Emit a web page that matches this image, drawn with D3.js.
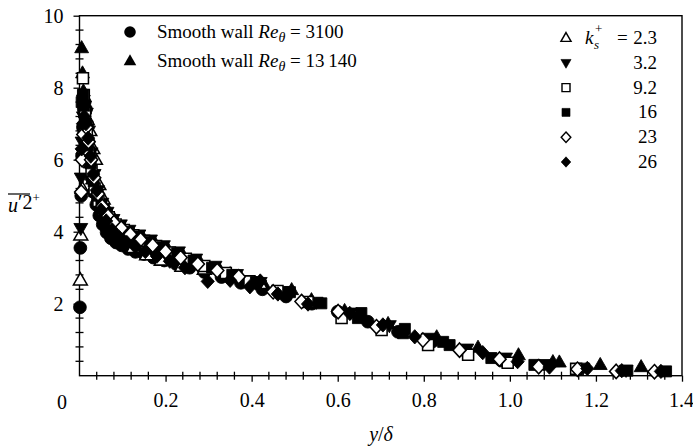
<!DOCTYPE html>
<html><head><meta charset="utf-8">
<script src="https://cdn.jsdelivr.net/npm/d3@7"></script>
<style>html,body{margin:0;padding:0;background:#fff}svg{display:block}svg text{font-family:'Liberation Serif',Tinos,'Times New Roman','DejaVu Serif',serif !important}</style>
</head><body><svg id="c" width="693" height="446"></svg>
<script>
const xTicks = [0.2,0.4,0.6,0.8,1.0,1.2,1.4];
const xTickLabels = ["0.2","0.4","0.6","0.8","1.0","1.2","1.4"];
const yTicks = [2,4,6,8,10];
const yTickLabels = ["2","4","6","8","10"];

const smooth3100 = [[0.001,1.9],[0.002,3.55],[0.004,5.0],[0.006,6.1],[0.008,6.9],[0.010,7.4],[0.012,7.6],[0.015,7.4],[0.018,7.0],[0.021,6.5],[0.024,6.0],[0.028,5.5],[0.033,5.1],[0.039,4.75],[0.046,4.45],[0.054,4.2],[0.063,3.98],[0.073,3.82],[0.085,3.7],[0.098,3.62],[0.113,3.52],[0.13,3.44],[0.15,3.38],[0.172,3.28],[0.197,3.2],[0.225,3.1],[0.256,3.0],[0.29,2.88],[0.33,2.74],[0.375,2.58],[0.425,2.4],[0.48,2.2],[0.54,2.0],[0.6,1.78],[0.67,1.5],[0.74,1.22],[0.82,0.95],[0.9,0.65],[0.98,0.42]];
const smooth13140 = [[0.005,9.1],[0.007,8.4],[0.009,7.9],[0.012,7.4],[0.015,6.9],[0.019,6.4],[0.024,5.9],[0.03,5.45],[0.037,5.1],[0.046,4.8],[0.057,4.55],[0.07,4.4],[0.085,4.25],[0.103,4.1],[0.124,3.95],[0.148,3.82],[0.175,3.68],[0.205,3.52],[0.24,3.35],[0.28,3.15],[0.325,2.95],[0.375,2.72],[0.43,2.5],[0.493,2.38],[0.539,2.1],[0.616,1.8],[0.717,1.44],[0.83,1.07],[0.926,0.78],[1.02,0.57],[1.10,0.38],[1.115,0.37],[1.21,0.3],[1.305,0.24]];
const ks23 = [[0.002,2.65],[0.003,3.9],[0.006,5.2],[0.009,6.3],[0.013,6.9],[0.018,7.1],[0.024,6.8],[0.031,6.3],[0.037,6.0],[0.045,5.3],[0.055,4.9],[0.067,4.55],[0.082,4.3],[0.1,4.05],[0.125,3.55],[0.156,3.35],[0.19,3.2],[0.238,3.03],[0.29,2.95],[0.35,2.8],[0.42,2.55]];
const ks32 = [[0.003,4.1],[0.004,5.5],[0.006,6.5],[0.009,7.2],[0.012,7.5],[0.016,7.3],[0.021,6.8],[0.027,6.2],[0.034,5.6],[0.042,5.15],[0.052,4.8],[0.064,4.55],[0.078,4.35],[0.095,4.2],[0.115,4.05],[0.138,3.92],[0.165,3.78],[0.195,3.62],[0.23,3.45],[0.27,3.25],[0.315,3.05],[0.365,2.82],[0.42,2.6],[0.48,2.35],[0.55,2.05],[0.63,1.75],[0.72,1.4],[0.81,1.05],[0.9,0.75],[0.99,0.5],[1.08,0.32],[1.17,0.22],[1.27,0.16]];
const ks92 = [[0.008,8.26],[0.01,7.8],[0.013,7.3],[0.017,6.8],[0.022,6.2],[0.028,5.7],[0.035,5.2],[0.044,4.85],[0.055,4.6],[0.068,4.4],[0.084,4.2],[0.103,4.05],[0.125,3.9],[0.15,3.75],[0.178,3.6],[0.21,3.42],[0.247,3.25],[0.29,3.05],[0.34,2.85],[0.395,2.62],[0.46,2.35],[0.53,2.05],[0.609,1.6],[0.702,1.27],[0.81,0.85],[0.903,0.58],[0.995,0.36],[1.154,0.19]];
const ks16 = [[0.005,7.6],[0.008,7.8],[0.011,7.5],[0.015,7.0],[0.02,6.4],[0.026,5.9],[0.033,5.4],[0.041,5.0],[0.051,4.7],[0.063,4.48],[0.077,4.3],[0.094,4.15],[0.114,4.0],[0.137,3.87],[0.163,3.72],[0.193,3.57],[0.227,3.4],[0.265,3.2],[0.308,3.0],[0.355,2.8],[0.41,2.6],[0.489,2.32],[0.562,2.01],[0.647,1.6],[0.655,1.74],[0.752,1.18],[0.756,1.3],[0.845,0.94],[0.86,0.85],[0.957,0.49],[1.057,0.3],[1.273,0.14],[1.363,0.12]];
const ks23b = [[0.004,5.1],[0.006,6.0],[0.009,6.7],[0.012,7.0],[0.016,6.9],[0.021,6.5],[0.027,6.0],[0.034,5.5],[0.043,5.05],[0.053,4.7],[0.065,4.45],[0.08,4.25],[0.097,4.1],[0.118,3.93],[0.142,3.78],[0.17,3.62],[0.2,3.45],[0.235,3.28],[0.275,3.1],[0.32,2.92],[0.37,2.75],[0.45,2.33],[0.516,2.06],[0.601,1.78],[0.69,1.36],[0.798,0.99],[0.883,0.71],[0.976,0.46],[1.067,0.25],[1.157,0.18],[1.247,0.12],[1.336,0.11]];
const ks26 = [[0.005,6.3],[0.008,7.0],[0.011,7.2],[0.015,7.0],[0.02,6.6],[0.026,6.1],[0.032,5.6],[0.04,5.15],[0.05,4.6],[0.062,4.3],[0.076,4.05],[0.092,3.85],[0.11,3.7],[0.13,3.58],[0.153,3.45],[0.18,3.32],[0.21,3.18],[0.245,3.0],[0.298,2.62],[0.35,2.65],[0.396,2.47],[0.41,2.57],[0.42,2.63],[0.461,2.27],[0.531,1.99],[0.628,1.73],[0.705,1.41],[0.779,1.08],[0.937,0.64],[1.018,0.39],[1.092,0.24],[1.18,0.2],[1.26,0.14],[1.351,0.12]];

const shapes = {
  circle: "M5.8,0A5.8,5.8 0 1,1 -5.8,0A5.8,5.8 0 1,1 5.8,0Z",
  tri: "M0,-6.8L6.3,4.2L-6.3,4.2Z",
  triDown: "M0,6.8L6.3,-4.2L-6.3,-4.2Z",
  square: "M-5,-5H5V5H-5Z",
  diamond: "M0,-6.5L6,0L0,6.5L-6,0Z"
};
const series = [
  {data: smooth3100, shape:"circle", fill:true},
  {data: smooth13140, shape:"tri", fill:true},
  {data: ks23, shape:"tri", fill:false},
  {data: ks32, shape:"triDown", fill:true},
  {data: ks92, shape:"square", fill:false},
  {data: ks16, shape:"square", fill:true},
  {data: ks23b, shape:"diamond", fill:false},
  {data: ks26, shape:"diamond", fill:true}
];

const svg = d3.select("#c");
const x = d3.scaleLinear().domain([0,1.4]).range([79.5,682]);
const y = d3.scaleLinear().domain([0,10]).range([375.7,15.7]);

svg.append("rect").attr("x",x(0)).attr("y",y(10)).attr("width",x(1.4)-x(0)).attr("height",y(0)-y(10))
  .attr("fill","none").attr("stroke","#000").attr("stroke-width",1.4);

const xMinor = d3.range(1,36).map(i=>i*0.04).filter(v=>Math.abs(v/0.2-Math.round(v/0.2))>1e-6);
svg.append("g").selectAll("line").data(xMinor).join("line")
  .attr("x1",d=>x(d)).attr("x2",d=>x(d)).attr("y1",y(0)-4).attr("y2",y(0)+4).attr("stroke","#000").attr("stroke-width",1.3);
const yMinor = d3.range(1,25).map(i=>i*0.4).filter(v=>Math.abs(v/2-Math.round(v/2))>1e-6);
svg.append("g").selectAll("line").data(yMinor).join("line")
  .attr("y1",d=>y(d)).attr("y2",d=>y(d)).attr("x1",x(0)-4).attr("x2",x(0)+4).attr("stroke","#000").attr("stroke-width",1.3);

const xAxis = d3.axisBottom(x).tickValues(xTicks).tickFormat((d,i)=>xTickLabels[i]).tickSize(6).tickPadding(11);
const gx = svg.append("g").attr("transform",`translate(0,${y(0)})`).call(xAxis);
gx.select(".domain").remove();
gx.selectAll("line").attr("stroke-width",1.3);
gx.selectAll("text").attr("font-size",20);
gx.selectAll("text").filter((d,i)=>i===xTicks.length-1).attr("dx",-1);
const yAxis = d3.axisLeft(y).tickValues(yTicks).tickFormat((d,i)=>yTickLabels[i]).tickSize(6).tickPadding(10);
const gy = svg.append("g").attr("transform",`translate(${x(0)},0)`).call(yAxis);
gy.select(".domain").remove();
gy.selectAll("line").attr("stroke-width",1.3);
gy.selectAll("text").attr("font-size",20);
svg.append("text").attr("x",62).attr("y",409).attr("text-anchor","middle").attr("font-size",20).text("0");

series.forEach(s=>{
  svg.append("g").selectAll("path").data(s.data).join("path")
    .attr("d",shapes[s.shape])
    .attr("transform",d=>`translate(${x(d[0])},${y(d[1])}) scale(1.1)`)
    .attr("fill",s.fill?"#000":"#fff")
    .attr("stroke","#000").attr("stroke-width",s.fill?0.8:1.4);
});

const xl = svg.append("text").attr("x",381).attr("y",441).attr("text-anchor","middle").attr("font-size",20);
xl.append("tspan").attr("font-style","italic").text("y");
xl.append("tspan").text("/");
xl.append("tspan").attr("font-style","italic").text("δ");

const yl = svg.append("text").attr("x",8).attr("y",212).attr("font-size",20);
yl.append("tspan").attr("font-style","italic").text("u");
yl.append("tspan").attr("dy",-3).text("′2");
yl.append("tspan").attr("dy",-7).attr("font-size",13).text("+");
svg.append("line").attr("x1",8).attr("x2",30).attr("y1",194).attr("y2",194).attr("stroke","#000").attr("stroke-width",1.2);

const legL = [{shape:"circle", re:"3100"},{shape:"tri", re:"13\u2009140"}];
legL.forEach((d,i)=>{
  const cy = 32 + i*29;
  svg.append("path").attr("d",shapes[d.shape]).attr("transform",`translate(130,${cy})`).attr("fill","#000");
  const t = svg.append("text").attr("x",157).attr("y",cy+6).attr("font-size",19);
  t.append("tspan").text("Smooth wall ");
  t.append("tspan").attr("font-style","italic").text("Re");
  t.append("tspan").attr("font-style","italic").attr("font-size",14).attr("dy",4).text("θ");
  t.append("tspan").attr("dy",-4).text(" = " + d.re);
});

const legR = [{shape:"tri",fill:false,lab:"2.3"},{shape:"triDown",fill:true,lab:"3.2"},{shape:"square",fill:false,lab:"9.2"},{shape:"square",fill:true,lab:"16"},{shape:"diamond",fill:false,lab:"23"},{shape:"diamond",fill:true,lab:"26"}];
legR.forEach((d,i)=>{
  const cy = 38 + i*24.8;
  svg.append("path").attr("d",shapes[d.shape]).attr("transform",`translate(566,${cy}) scale(0.8)`)
    .attr("fill",d.fill?"#000":"#fff").attr("stroke","#000").attr("stroke-width",d.fill?0.8:1.8);
  svg.append("text").attr("x",657).attr("y",cy+6).attr("text-anchor","end").attr("font-size",19).text(d.lab);
});
svg.append("text").attr("x",585).attr("y",44).attr("font-size",19).attr("font-style","italic").text("k");
svg.append("text").attr("x",594).attr("y",49).attr("font-size",13).attr("font-style","italic").text("s");
svg.append("text").attr("x",595).attr("y",33).attr("font-size",13).text("+");
svg.append("text").attr("x",617).attr("y",44).attr("font-size",19).text("=");
</script></body></html>
